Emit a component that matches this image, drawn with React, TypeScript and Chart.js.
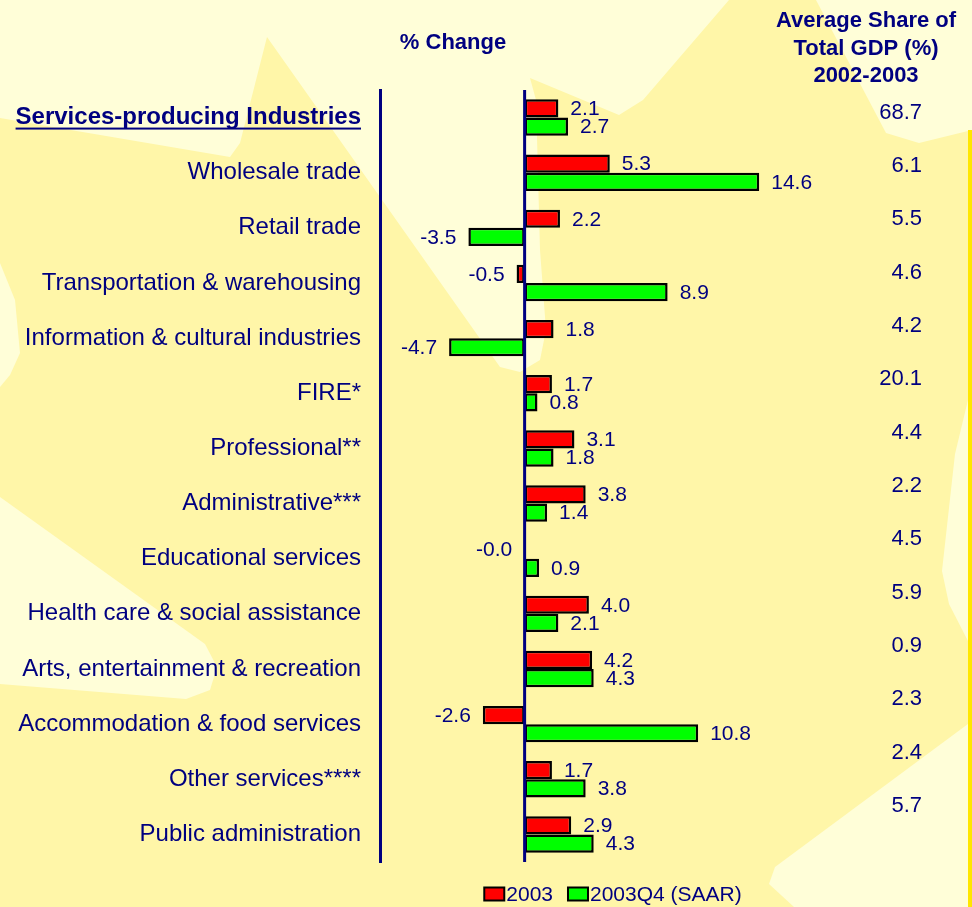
import React, { useEffect, useRef } from "react";
import { Chart, registerables } from "chart.js";

Chart.register(...registerables);

const categories = [
  "Services-producing Industries",
  "Wholesale trade",
  "Retail trade",
  "Transportation & warehousing",
  "Information & cultural industries",
  "FIRE*",
  "Professional**",
  "Administrative***",
  "Educational services",
  "Health care & social assistance",
  "Arts, entertainment & recreation",
  "Accommodation & food services",
  "Other services****",
  "Public administration",
];

const change2003 = [2.1, 5.3, 2.2, -0.5, 1.8, 1.7, 3.1, 3.8, -0.02, 4.0, 4.2, -2.6, 1.7, 2.9];
const change2003Q4 = [2.7, 14.6, -3.5, 8.9, -4.7, 0.8, 1.8, 1.4, 0.9, 2.1, 4.3, 10.8, 3.8, 4.3];
const avgShare = ["68.7", "6.1", "5.5", "4.6", "4.2", "20.1", "4.4", "2.2", "4.5", "5.9", "0.9", "2.3", "2.4", "5.7"];

const seriesNames = ["2003", "2003Q4 (SAAR)"];
const seriesColors = ["#FF0000", "#00FF00"];
const headerChange = "% Change";
const headerShare = ["Average Share of", "Total GDP (%)", "2002-2003"];

const NAVY = "#000080";
const FONT = "Arial, 'Liberation Sans', sans-serif";

// decorative background (maple-leaf pattern), light patches
const bgLightShapes = [
  "0,0 729,0 643,100 619,115 530,78 536,100 540,250 546,330 540,360 520,372 500,367 267,37 240,143 230,157 0,118",
  "816,0 972,0 972,130 919,143 886,133",
  "0,263 15,300 20,353 10,375 0,387",
  "0,497 205,644 217,667 210,690 186,699 0,684",
  "972,721 775,867 769,884 794,907 972,907",
  "968,400 955,454 942,571 949,604 968,641",
];

const textPlugin = {
  id: "customText",
  afterDatasetsDraw(chart: any) {
    const ctx = chart.ctx;
    const area = chart.chartArea;
    const xs = chart.scales.x;
    ctx.save();
    const x0 = xs.getPixelForValue(0);
    ctx.strokeStyle = NAVY;
    ctx.lineWidth = 3;
    ctx.beginPath();
    ctx.moveTo(x0, area.top);
    ctx.lineTo(x0, area.bottom);
    ctx.stroke();

    ctx.font = `21px ${FONT}`;
    ctx.fillStyle = NAVY;
    ctx.textBaseline = "middle";
    chart.data.datasets.forEach((ds: any, di: number) => {
      const meta = chart.getDatasetMeta(di);
      meta.data.forEach((el: any, i: number) => {
        const v = ds.data[i];
        const txt = v.toFixed(1);
        if (v >= 0) {
          ctx.textAlign = "left";
          ctx.fillText(txt, el.x + 12, el.y + 1);
        } else {
          ctx.textAlign = "right";
          ctx.fillText(txt, el.x - 12, el.y + 1);
        }
      });
    });
    ctx.restore();
  },
  afterDraw(chart: any) {
    const ctx = chart.ctx;
    const area = chart.chartArea;
    const ys = chart.scales.y;
    ctx.save();
    ctx.fillStyle = NAVY;
    ctx.textBaseline = "middle";
    ctx.font = `bold 22px ${FONT}`;
    ctx.textAlign = "center";
    ctx.fillText(headerChange, 453, 43);
    headerShare.forEach((line, i) => {
      ctx.fillText(line, 866, 21 + i * 27.5);
    });
    ctx.font = `22px ${FONT}`;
    ctx.textAlign = "right";
    const first = ys.getPixelForValue(0) - 5;
    const step = (ys.getPixelForValue(1) - ys.getPixelForValue(0)) * 0.967;
    avgShare.forEach((s, i) => {
      ctx.fillText(s, 922, first + i * step);
    });
    const y0 = ys.getPixelForValue(0);
    ctx.font = `bold 24px ${FONT}`;
    const w = ctx.measureText(categories[0]).width;
    const right = area.left - 19;
    ctx.fillRect(right - w, y0 + 10, w, 2);

    ctx.font = `21px ${FONT}`;
    ctx.textAlign = "left";
    const boxW = 20, boxH = 13, gap = 2, itemGap = 15;
    const widths = seriesNames.map((n) => boxW + gap + ctx.measureText(n).width);
    const total = widths.reduce((a, b) => a + b, 0) + itemGap;
    let lx = (area.left + area.right) / 2 - total / 2;
    const ly = 894;
    seriesNames.forEach((n, i) => {
      ctx.fillStyle = seriesColors[i];
      ctx.fillRect(lx, ly - boxH / 2, boxW, boxH);
      ctx.strokeStyle = "#000";
      ctx.lineWidth = 2;
      ctx.strokeRect(lx, ly - boxH / 2, boxW, boxH);
      ctx.fillStyle = NAVY;
      ctx.fillText(n, lx + boxW + gap, ly + 1);
      lx += widths[i] + itemGap;
    });
    ctx.restore();
  },
};

export default function App() {
  const canvasRef = useRef<HTMLCanvasElement | null>(null);

  useEffect(() => {
    if (!canvasRef.current) return;
    const chart = new Chart(canvasRef.current, {
      type: "bar",
      data: {
        labels: categories,
        datasets: [
          {
            label: seriesNames[0],
            data: change2003,
            backgroundColor: seriesColors[0],
            borderColor: "#000000",
            borderWidth: 2.5,
            borderSkipped: false,
          },
          {
            label: seriesNames[1],
            data: change2003Q4,
            backgroundColor: seriesColors[1],
            borderColor: "#000000",
            borderWidth: 2.5,
            borderSkipped: false,
          },
        ],
      },
      options: {
        indexAxis: "y",
        animation: false,
        responsive: true,
        maintainAspectRatio: false,
        datasets: { bar: { categoryPercentage: 0.66, barPercentage: 1 } },
        layout: { padding: { left: 0, top: 90, right: 126, bottom: 45 } },
        plugins: {
          legend: { display: false },
          tooltip: { enabled: false },
          title: { display: false },
        },
        scales: {
          x: {
            min: -9,
            max: 20,
            grid: { display: false },
            border: { display: false },
            ticks: { display: false },
            afterFit: (scale: any) => {
              scale.height = 0;
            },
          },
          y: {
            grid: { display: false, drawTicks: false },
            border: { display: true, color: NAVY, width: 3 },
            ticks: {
              padding: 19,
              color: NAVY,
              font: (c: any) =>
                c.index === 0
                  ? { size: 24, weight: "bold", family: FONT }
                  : { size: 24, weight: "normal", family: FONT },
            },
            afterFit: (scale: any) => {
              scale.width = 380;
            },
          },
        },
      },
      plugins: [textPlugin],
    });
    return () => chart.destroy();
  }, []);

  return (
    <div
      style={{
        position: "fixed",
        left: 0,
        top: 0,
        width: 972,
        height: 907,
        background: "#FFF6A8",
        overflow: "hidden",
      }}
    >
      <svg
        width={972}
        height={907}
        style={{ position: "absolute", left: 0, top: 0 }}
      >
        {bgLightShapes.map((p, i) => (
          <polygon key={i} points={p} fill="#FFFED8" />
        ))}
        <rect x={968} y={130} width={4} height={777} fill="#FFE600" />
      </svg>
      <div style={{ position: "absolute", left: 0, top: 0, width: 972, height: 907 }}>
        <canvas ref={canvasRef} />
      </div>
    </div>
  );
}
